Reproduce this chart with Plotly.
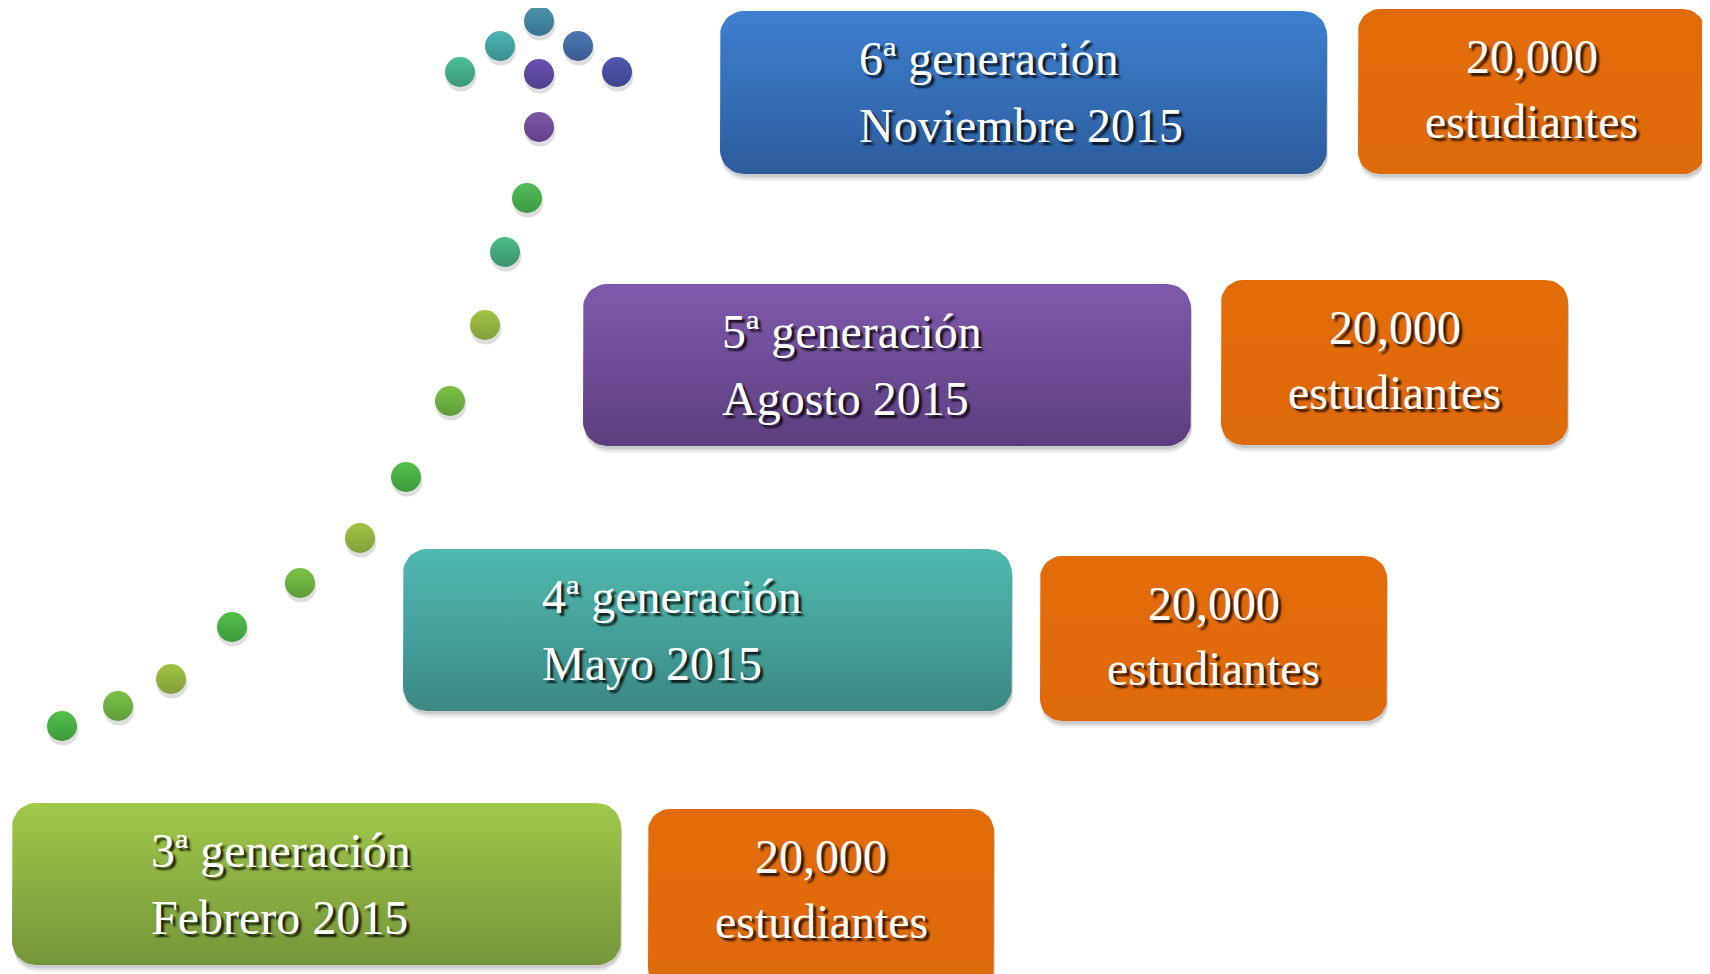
import numpy as np
import plotly.graph_objects as go

# ---------------- data ----------------
generaciones = ["3ª generación", "4ª generación", "5ª generación", "6ª generación"]
fechas = ["Febrero 2015", "Mayo 2015", "Agosto 2015", "Noviembre 2015"]
estudiantes = [20000, 20000, 20000, 20000]
unidad = "estudiantes"

# decorative dot path (pixel coordinates of the canvas axis)
dot_x = [62, 118, 171, 232, 300, 360, 406, 450, 485, 505, 527, 539, 539, 460, 500, 539, 578, 617]
dot_y = [726, 706, 679, 627, 583, 538, 477, 401, 325, 252, 198, 127, 74, 72, 46, 21, 46, 72]
dot_top = ["#55c04c", "#7cc246", "#a2c444", "#55c04c", "#7cc246", "#a2c444", "#55c04c", "#7cc246",
           "#a2c444", "#4dba86", "#52bd55", "#8058a8", "#6a4fb0", "#4ebc98", "#4db4b4", "#4b94ac",
           "#4a78b4", "#5158b0"]
dot_bot = ["#3d9a3d", "#5e9c3a", "#829f3a", "#3d9a3d", "#5e9c3a", "#829f3a", "#3d9a3d", "#5e9c3a",
           "#829f3a", "#3a9470", "#3d9a45", "#604088", "#504090", "#3a987a", "#3a9090", "#3a7590",
           "#3a5c90", "#3e4490"]

# ---------------- layout constants ----------------
W, H = 1710, 974
PAGE_OFF = 8  # default body margin of the html page
gen_box = [(12, 803, 621, 965), (403, 549, 1012, 711), (583, 284, 1191, 446), (720, 11, 1327, 174)]
num_box = [(648, 809, 994, 990), (1040, 556, 1387, 721), (1221, 280, 1568, 445), (1358, 9, 1705, 174)]
gen_top = ["#a0c84a", "#50bab0", "#7f5aac", "#3e80d0"]
gen_bot = ["#76953a", "#3b8884", "#5c3e80", "#2c5c9c"]
orange = "#e36c0a"
text_offset = 137


def rrect(x0, y0, x1, y1, r, n=10):
    pts = []
    corners = [(x1 - r, y0 + r, -90, 0), (x1 - r, y1 - r, 0, 90),
               (x0 + r, y1 - r, 90, 180), (x0 + r, y0 + r, 180, 270)]
    for cx, cy, a0, a1 in corners:
        for a in np.linspace(np.radians(a0), np.radians(a1), n):
            pts.append((cx + r * np.cos(a), cy + r * np.sin(a)))
    pts.append(pts[0])
    xs, ys = zip(*pts)
    return list(xs), list(ys)


fig = go.Figure()

def add_box(box, top, bot, r):
    x0, y0, x1, y1 = box
    # soft shadow
    for k, a in [(7, 0.05), (5, 0.07), (3, 0.09)]:
        sx, sy = rrect(x0 + 1, y0 + k, x1 + 1, y1 + k, r)
        fig.add_trace(go.Scatter(x=sx, y=sy, mode="lines", fill="toself",
                                 fillcolor=f"rgba(0,0,0,{a})", line=dict(width=0),
                                 hoverinfo="skip", showlegend=False))
    bx, by = rrect(x0, y0, x1, y1, r)
    fig.add_trace(go.Scatter(x=bx, y=by, mode="lines", fill="toself",
                             fillgradient=dict(type="vertical",
                                               colorscale=[[0, top], [1, bot]],
                                               start=y0, stop=y1),
                             line=dict(width=0), hoverinfo="skip", showlegend=False))

for i in range(len(generaciones)):
    add_box(gen_box[i], gen_top[i], gen_bot[i], 24)
    add_box(num_box[i], orange, "#df6a0a", 22)

# dots: shadow then gradient marker
fig.add_trace(go.Scatter(x=[x + 1 for x in dot_x], y=[y + 4 for y in dot_y], mode="markers",
                         marker=dict(size=31, color="rgba(0,0,0,0.13)", line=dict(width=0)),
                         hoverinfo="skip", showlegend=False))
fig.add_trace(go.Scatter(x=dot_x, y=dot_y, mode="markers",
                         marker=dict(size=30, color=dot_top,
                                     gradient=dict(type="vertical", color=dot_bot),
                                     line=dict(width=0)),
                         hoverinfo="skip", showlegend=False))

shadow = "3px 3px 2px rgba(0,0,0,0.8)"
font_txt = dict(family="Liberation Serif", size=48, color="white", shadow=shadow)

for i in range(len(generaciones)):
    x0, y0, x1, y1 = gen_box[i]
    for line, dy in [(generaciones[i], 47), (fechas[i], 114)]:
        fig.add_annotation(x=x0 + text_offset, y=y0 + dy, text=line, showarrow=False,
                           xanchor="left", yanchor="middle", font=font_txt)
    nx0, ny0, nx1, ny1 = num_box[i]
    cx = (nx0 + nx1) / 2
    for line, dy in [(f"{estudiantes[i]:,}", 47), (unidad, 112)]:
        fig.add_annotation(x=cx, y=ny0 + dy, text=line, showarrow=False,
                           xanchor="center", yanchor="middle", font=font_txt)

fig.update_layout(
    width=W, height=H, margin=dict(l=0, r=0, t=0, b=0),
    paper_bgcolor="white", plot_bgcolor="white",
    xaxis=dict(range=[PAGE_OFF, W + PAGE_OFF], visible=False, fixedrange=True),
    yaxis=dict(range=[H + PAGE_OFF, PAGE_OFF], visible=False, fixedrange=True),
    showlegend=False,
)

fig.write_html("out.html", config={"displayModeBar": False})
